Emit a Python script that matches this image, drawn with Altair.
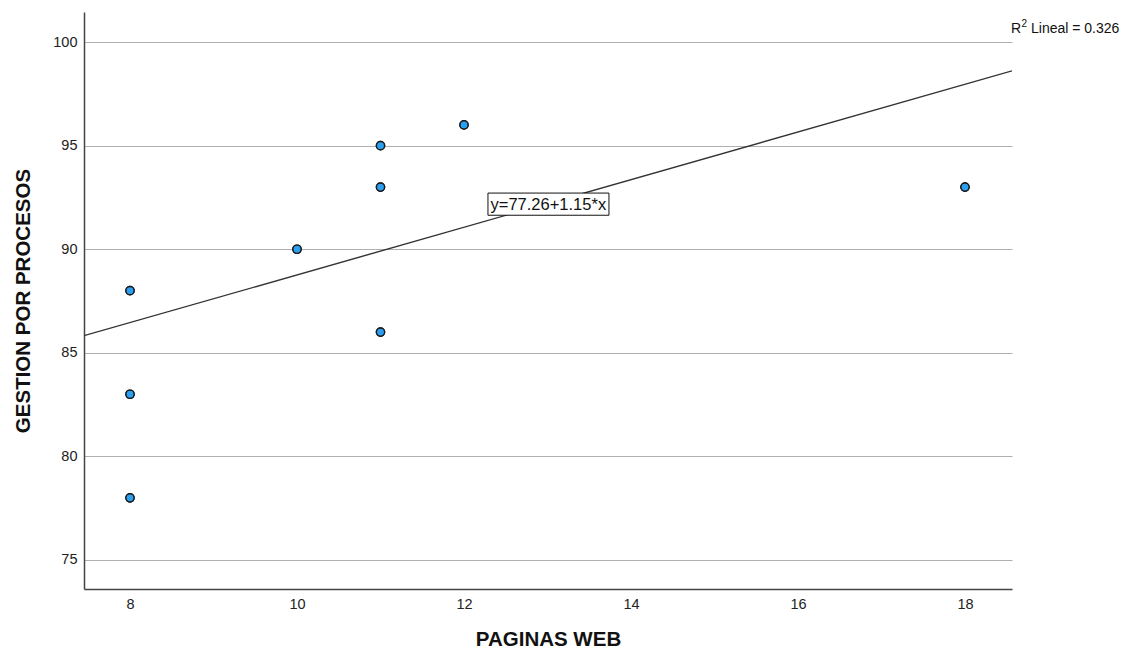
import altair as alt
import pandas as pd

# Observed values
paginas_web = [8, 8, 8, 10, 11, 11, 11, 12, 18]
gestion_procesos = [88, 83, 78, 90, 95, 93, 86, 96, 93]

# Linear fit reported on the chart
intercept = 77.26
slope = 1.15
r2 = 0.326

x_domain = [7.449, 18.563]
y_domain = [73.6, 101.45]
x_ticks = [8, 10, 12, 14, 16, 18]
y_ticks = [75, 80, 85, 90, 95, 100]

points = pd.DataFrame({"x": paginas_web, "y": gestion_procesos})
fit = pd.DataFrame({"x": x_domain, "y": [intercept + slope * v for v in x_domain]})
eq_text = f"y={intercept:.2f}+{slope:.2f}*x"

font = "Liberation Sans"

xs = alt.Scale(domain=x_domain, nice=False, zero=False)
ys = alt.Scale(domain=y_domain, nice=False, zero=False)

x_axis = alt.Axis(values=x_ticks, format="d", grid=False, ticks=False,
                  domainColor="#444444", domainWidth=1.5, labelFontSize=14.5,
                  labelColor="#222222", labelPadding=8, title="PAGINAS WEB",
                  titleFontSize=20.5, titleFontWeight="bold", titleColor="#111111",
                  titlePadding=19, labelFont=font, titleFont=font)
y_axis = alt.Axis(values=y_ticks, format="d", grid=True, gridColor="#b0b0b0",
                  gridWidth=1.2, ticks=False, domainColor="#444444", domainWidth=1.5,
                  labelFontSize=14.5, labelColor="#222222", labelPadding=7,
                  title="GESTION POR PROCESOS", titleFontSize=20.5,
                  titleFontWeight="bold", titleColor="#111111", titlePadding=19,
                  labelFont=font, titleFont=font)

base_pts = alt.Chart(points).mark_point(
    filled=True, size=68, color="#2b9ff0", stroke="#1a1a1a", strokeWidth=1.4, opacity=1
).encode(
    x=alt.X("x:Q", scale=xs, axis=x_axis),
    y=alt.Y("y:Q", scale=ys, axis=y_axis),
)

line = alt.Chart(fit).mark_line(color="#333333", strokeWidth=1.4, clip=True).encode(
    x=alt.X("x:Q", scale=xs), y=alt.Y("y:Q", scale=ys)
)

# Equation label with a framed box
label_df = pd.DataFrame({"x": [12.287], "x2": [13.736], "y": [92.71], "y2": [91.64],
                         "tx": [13.01], "ty": [92.15], "t": [eq_text]})
box = alt.Chart(label_df).mark_rect(fill="white", stroke="#111111", strokeWidth=1).encode(
    x=alt.X("x:Q", scale=xs), x2="x2", y=alt.Y("y:Q", scale=ys), y2="y2"
)
eq = alt.Chart(label_df).mark_text(font=font, fontSize=16.5, color="#111111",
                                   baseline="middle", align="center").encode(
    x=alt.X("tx:Q", scale=xs), y=alt.Y("ty:Q", scale=ys), text="t:N"
)

# R squared note: "R", superscript "2", then the rest
r_df = pd.DataFrame({"t": ["R"]})
sup_df = pd.DataFrame({"t": ["2"]})
rest_df = pd.DataFrame({"t": [f"Lineal = {r2:.3f}"]})
r_txt = alt.Chart(r_df).mark_text(font=font, fontSize=14, color="#111111",
                                  align="left", baseline="middle").encode(
    x=alt.value(927), y=alt.value(17), text="t:N")
sup_txt = alt.Chart(sup_df).mark_text(font=font, fontSize=10, color="#111111",
                                      align="left", baseline="middle").encode(
    x=alt.value(937.5), y=alt.value(12), text="t:N")
rest_txt = alt.Chart(rest_df).mark_text(font=font, fontSize=14, color="#111111",
                                        align="left", baseline="middle").encode(
    x=alt.value(947), y=alt.value(17), text="t:N")

chart = alt.layer(base_pts, line, box, eq, base_pts, r_txt, sup_txt, rest_txt).properties(
    width=928, height=577,
    autosize=alt.AutoSizeParams(type="none"),
    padding={"left": 84, "top": 12, "right": 121, "bottom": 66},
    background="white",
).configure_view(stroke=None)

chart.save("out.html", embed_options={"renderer": "svg", "actions": False})
